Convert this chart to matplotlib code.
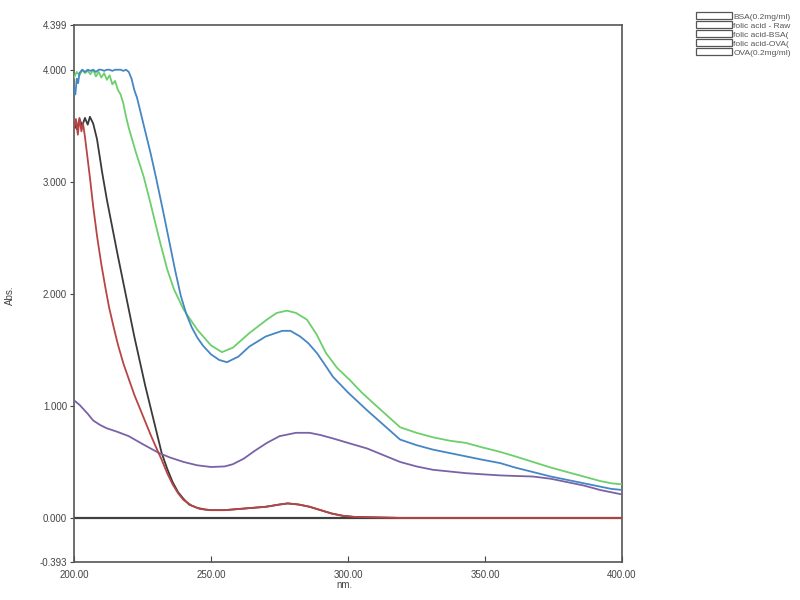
import matplotlib
matplotlib.use("Agg")
import matplotlib.pyplot as plt
from matplotlib.patches import Patch

plt.rcParams["font.family"] = ["Liberation Sans", "DejaVu Sans"]

# ---- data ----
labels = ["BSA(0.2mg/ml)", "folic acid - Raw", "folic acid-BSA(", "folic acid-OVA(", "OVA(0.2mg/ml)"]

bsa_x = [200, 201, 202, 203, 204, 205, 205.8, 207, 208.4, 210.3, 212, 214, 216, 218, 220, 222, 224, 226,
         228, 230, 232, 234, 236, 238, 240, 242, 245, 248, 250, 255, 260, 265, 270, 275, 278, 282, 286,
         290, 294, 298, 302, 310, 320, 340, 360, 380, 400]
bsa_y = [3.52, 3.47, 3.56, 3.50, 3.57, 3.51, 3.58, 3.52, 3.38, 3.08, 2.84, 2.59, 2.34, 2.10, 1.86, 1.62,
         1.40, 1.18, 0.98, 0.78, 0.58, 0.44, 0.32, 0.23, 0.17, 0.12, 0.09, 0.075, 0.07, 0.07, 0.08, 0.09,
         0.10, 0.12, 0.13, 0.12, 0.10, 0.07, 0.04, 0.02, 0.01, 0.005, 0.0, 0.0, 0.0, 0.0, 0.0]

raw_x = [200, 202, 205, 207, 209.5, 212, 215.7, 220, 225, 231, 235, 240, 245, 250, 255, 258, 262, 266,
         270.4, 275, 281, 286, 290, 294.5, 300, 307, 313, 319, 325, 331, 337, 343, 349, 355.5, 361, 367.5,
         374, 380, 386, 392, 396, 400]
raw_y = [1.05, 1.01, 0.93, 0.87, 0.83, 0.80, 0.77, 0.73, 0.66, 0.58, 0.54, 0.50, 0.47, 0.455, 0.46, 0.48,
         0.53, 0.60, 0.67, 0.73, 0.76, 0.76, 0.74, 0.71, 0.67, 0.62, 0.56, 0.50, 0.46, 0.43, 0.415, 0.40,
         0.39, 0.38, 0.375, 0.37, 0.35, 0.32, 0.29, 0.25, 0.23, 0.21]

fbsa_x = [200, 201, 202, 203, 204, 205, 206, 207, 208, 209, 210, 211, 212, 213, 214, 215, 216, 217, 218,
          219, 220, 222.5, 225.5, 228, 231, 234, 236.5, 240, 245, 250, 254, 258, 264, 270.4, 274, 277.7,
          281, 285, 288.5, 292, 296, 300.7, 305, 309, 314, 319, 325, 331, 337, 343, 349, 355.5, 361,
          367.5, 374, 380, 386, 392, 396, 400]
fbsa_y = [3.93, 3.98, 3.95, 4.00, 3.97, 3.99, 3.96, 4.00, 3.94, 3.98, 3.93, 3.97, 3.91, 3.95, 3.87, 3.90,
          3.82, 3.78, 3.70, 3.58, 3.48, 3.27, 3.04, 2.80, 2.50, 2.22, 2.04, 1.86, 1.68, 1.54, 1.48, 1.52,
          1.65, 1.77, 1.83, 1.85, 1.83, 1.77, 1.64, 1.47, 1.34, 1.23, 1.12, 1.03, 0.92, 0.81, 0.76, 0.72,
          0.69, 0.67, 0.63, 0.59, 0.55, 0.50, 0.45, 0.41, 0.37, 0.33, 0.31, 0.30]

fova_x = [200, 200.5, 201, 201.5, 202, 203, 204, 205, 206, 207, 208, 209, 210, 211, 212, 213, 214, 215,
          216, 217, 218, 219, 220, 221, 222, 223, 225, 228, 230, 232.5, 235, 237, 239, 241, 243, 245, 247,
          250, 253, 255.8, 260, 264, 270, 276, 279, 282.5, 285.5, 288.7, 291.5, 294.5, 300, 307, 313, 319,
          325, 331, 337, 343, 349, 355.5, 361, 367.5, 374, 380, 386, 392, 396, 400]
fova_y = [3.85, 3.78, 3.92, 3.88, 3.97, 4.00, 3.98, 4.00, 3.99, 4.00, 3.98, 4.00, 4.00, 3.99, 4.00, 4.00,
          3.99, 4.00, 4.00, 4.00, 3.99, 4.00, 3.98, 3.92, 3.82, 3.75, 3.55, 3.25, 3.03, 2.74, 2.44, 2.20,
          1.98, 1.82, 1.70, 1.61, 1.54, 1.46, 1.41, 1.39, 1.44, 1.53, 1.62, 1.67, 1.67, 1.62, 1.56, 1.47,
          1.37, 1.26, 1.12, 0.96, 0.83, 0.70, 0.65, 0.61, 0.58, 0.55, 0.52, 0.49, 0.45, 0.41, 0.37, 0.34,
          0.31, 0.28, 0.26, 0.25]

ova_x = [200, 200.7, 201.4, 202, 202.7, 203.3, 204, 204.8, 205.8, 207, 208.5, 210, 211.5, 212.8, 214.5,
         216, 218, 220, 222, 224, 226, 228, 230.5, 232, 234, 236, 238, 240, 243, 246, 250, 255, 260, 265,
         270, 275, 278, 282, 286, 290, 294, 298, 302, 310, 320, 340, 360, 380, 400]
ova_y = [3.48, 3.56, 3.42, 3.57, 3.45, 3.52, 3.40, 3.24, 3.04, 2.78, 2.50, 2.26, 2.05, 1.88, 1.70, 1.55,
         1.38, 1.24, 1.10, 0.98, 0.86, 0.74, 0.60, 0.52, 0.40, 0.30, 0.22, 0.16, 0.11, 0.08, 0.07, 0.07,
         0.08, 0.09, 0.10, 0.12, 0.13, 0.12, 0.10, 0.07, 0.04, 0.02, 0.01, 0.005, 0.0, 0.0, 0.0, 0.0, 0.0]

x_ticks = [200, 250, 300, 350, 400]
x_ticklabels = ["200.00", "250.00", "300.00", "350.00", "400.00"]
y_ticks = [-0.393, 0.0, 1.0, 2.0, 3.0, 4.0, 4.399]
y_ticklabels = ["-0.393", "0.000", "1.000", "2.000", "3.000", "4.000", "4.399"]

colors = ["#3a3a3a", "#7a62a8", "#6ccf6c", "#4686c4", "#b84545"]

# ---- figure ----
fig = plt.figure(figsize=(8, 6), dpi=100)
ax = fig.add_axes([0.0925, 0.0633, 0.685, 0.895])

ax.axhline(0, color="#404040", lw=1.6, zorder=1)

series = [(bsa_x, bsa_y), (raw_x, raw_y), (fbsa_x, fbsa_y), (fova_x, fova_y), (ova_x, ova_y)]
order = [1, 3, 2, 0, 4]
for i in order:
    xs, ys = series[i]
    ax.plot(xs, ys, color=colors[i], lw=1.3, zorder=2 + i)

ax.set_xlim(200, 400)
ax.set_ylim(-0.393, 4.399)
ax.set_xticks(x_ticks)
ax.set_xticklabels(x_ticklabels)
ax.set_yticks(y_ticks)
ax.set_yticklabels(y_ticklabels)
ax.tick_params(axis="x", direction="in", length=4, labelsize=7, colors="#444", pad=6)
ax.tick_params(axis="y", direction="out", length=3, labelsize=7, colors="#444", pad=2)
for s in ax.spines.values():
    s.set_color("#555555")
    s.set_linewidth(1.2)

fig.text(0.431, 0.025, "nm.", fontsize=7, color="#444", ha="center", va="center")
fig.text(0.013, 0.508, "Abs.", fontsize=7, color="#444", ha="center", va="center", rotation=90)

handles = [Patch(facecolor="white", edgecolor="#555555", linewidth=0.9) for _ in labels]
fig.legend(handles, labels, loc="upper left", bbox_to_anchor=(0.866, 0.985),
           frameon=False, fontsize=6, handlelength=4.3, handleheight=0.85,
           labelspacing=0.1, handletextpad=0.15, borderaxespad=0, labelcolor="#555")

fig.savefig("out.png", dpi=100, facecolor="white")
